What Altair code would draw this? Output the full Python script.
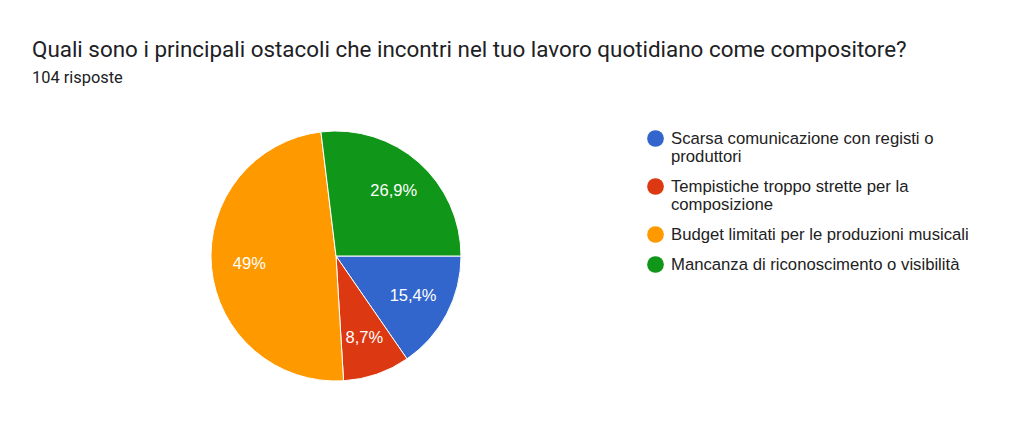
import altair as alt
import pandas as pd
import math

categories = [
    "Scarsa comunicazione con registi o\nproduttori",
    "Tempistiche troppo strette per la\ncomposizione",
    "Budget limitati per le produzioni musicali",
    "Mancanza di riconoscimento o visibilità",
]
counts = [16, 9, 51, 28]
colors = ["#3366cc", "#dc3912", "#ff9900", "#109618"]

df = pd.DataFrame({"cat": categories, "n": counts, "order": list(range(len(categories)))})

theta_scale = alt.Scale(range=[math.pi / 2, math.pi / 2 + 2 * math.pi])

base = alt.Chart(df).encode(
    theta=alt.Theta("n:Q", stack=True, scale=theta_scale),
    order=alt.Order("order:Q"),
)

pie = base.mark_arc(outerRadius=125, stroke="white", strokeWidth=1).encode(
    color=alt.Color(
        "cat:N",
        sort=categories,
        scale=alt.Scale(domain=categories, range=colors),
        legend=alt.Legend(
            title=None,
            orient="none",
            legendX=639,
            legendY=32,
            symbolType="circle",
            symbolSize=280,
            symbolStrokeWidth=0,
            labelFont="Liberation Sans",
            labelFontSize=16.7,
            labelColor="#222222",
            labelLimit=400,
            labelOffset=7,
            rowPadding=12,
            labelExpr="split(datum.label, '\\n')",
        ),
    )
)

labels = base.transform_joinaggregate(total="sum(n)").transform_calculate(
    pct="replace(format(datum.n / datum.total * 100, '.1~f'), '.', ',') + '%'"
).mark_text(radius=87, font="Liberation Sans", fontSize=16.5, color="white").encode(
    text="pct:N"
)

chart = (
    (pie + labels)
    .properties(
        width=656,
        height=316,
        padding={"left": 0, "top": 90, "right": 346, "bottom": 0},
        autosize=alt.AutoSizeParams(type="none"),
        title=alt.Title(
            "Quali sono i principali ostacoli che incontri nel tuo lavoro quotidiano come compositore?",
            subtitle="104 risposte",
            anchor="start",
            frame="group",
            dx=24,
            offset=12,
            font="Roboto",
            fontSize=22.4,
            fontWeight="normal",
            color="#202124",
            subtitleFont="Roboto",
            subtitleFontSize=16.4,
            subtitleColor="#202124",
            subtitlePadding=8,
        ),
    )
    .configure_view(stroke=None)
)

chart.save("out.html", embed_options={"renderer": "svg", "actions": False})
